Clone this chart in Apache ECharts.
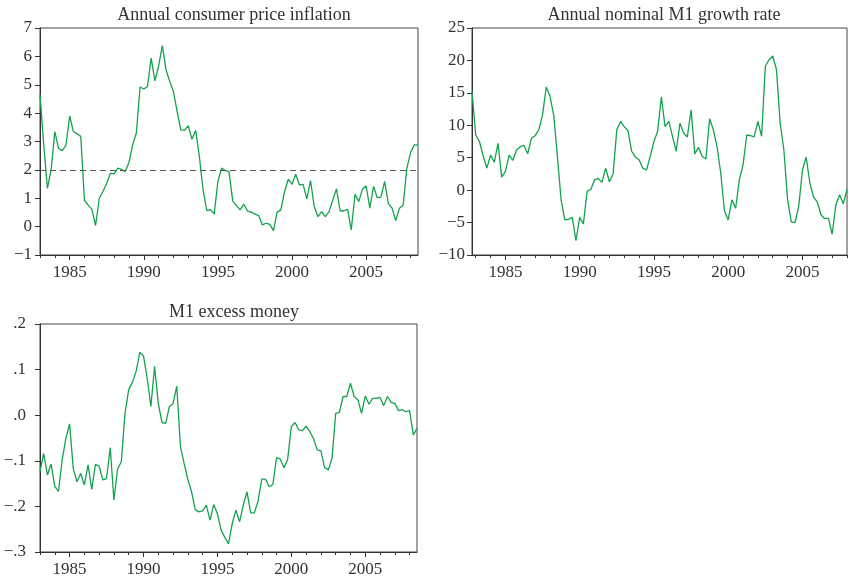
<!DOCTYPE html>
<html>
<head>
<meta charset="utf-8">
<script src="https://cdn.jsdelivr.net/npm/echarts@6/dist/echarts.min.js"></script>
<style>
	html, body { margin: 0; padding: 0; background: #fff; }
	#chart { width: 849px; height: 582px; }
</style>
</head>
<body>
<div id="chart"></div>
<script>
// quarterly series, first quarter of each series given as a decimal year
var cpiStart = 1983
var cpiInflation = [4.65, 2.9, 1.35, 2.0, 3.35, 2.76, 2.68, 2.86, 3.9, 3.35, 3.27, 3.18, 0.92, 0.76, 0.61, 0.04,
	1.0, 1.24, 1.53, 1.88, 1.86, 2.06, 2.02, 1.94, 2.26, 2.88, 3.3, 4.92, 4.85, 4.94, 5.94, 5.14,
	5.65, 6.38, 5.53, 5.12, 4.76, 4.06, 3.41, 3.39, 3.56, 3.08, 3.39, 2.47, 1.3, 0.56, 0.6, 0.44,
	1.59, 2.06, 1.98, 1.94, 0.91, 0.74, 0.59, 0.79, 0.55, 0.51, 0.44, 0.39, 0.06, 0.12, 0.08, -0.14,
	0.51, 0.59, 1.24, 1.67, 1.49, 1.85, 1.47, 1.49, 0.98, 1.62, 0.71, 0.35, 0.53, 0.35, 0.53, 0.94,
	1.33, 0.56, 0.56, 0.61, -0.12, 1.14, 0.88, 1.32, 1.44, 0.65, 1.42, 1.02, 1.04, 1.59, 0.82, 0.65,
	0.21, 0.65, 0.76, 2.06, 2.61, 2.88, 2.88]
var cpiTarget = 2

var m1Start = 1982.75
var m1Growth = [15.2, 8.5, 7.5, 5.3, 3.4, 5.4, 4.3, 7.2, 2.0, 2.9, 5.4, 4.6, 6.2, 6.7, 6.9, 5.6,
	8.0, 8.4, 9.3, 11.6, 15.9, 14.5, 11.6, 5.2, -1.5, -4.6, -4.5, -4.2, -7.8, -4.2, -5.2, -0.2,
	0.1, 1.6, 1.8, 1.2, 3.4, 1.3, 2.5, 9.3, 10.6, 9.8, 9.2, 6.0, 5.1, 4.7, 3.4, 3.1,
	5.2, 7.5, 9.1, 14.4, 9.8, 10.6, 8.3, 6.0, 10.3, 8.8, 8.2, 12.4, 5.6, 6.6, 5.2, 4.8,
	11.0, 9.3, 6.7, 2.6, -3.2, -4.6, -1.5, -2.8, 1.6, 3.9, 8.5, 8.4, 8.2, 10.6, 8.3, 19.1,
	20.1, 20.7, 18.6, 10.3, 6.2, -1.5, -4.9, -5.0, -2.5, 3.1, 5.1, 1.1, -1.1, -1.8, -3.8, -4.4,
	-4.3, -6.8, -2.3, -0.7, -2.1, 0.1]

var excessStart = 1983
var m1Excess = [-0.124, -0.084, -0.131, -0.107, -0.156, -0.167, -0.098, -0.051, -0.019, -0.117, -0.146, -0.128, -0.153, -0.109, -0.163, -0.108,
	-0.112, -0.142, -0.139, -0.071, -0.186, -0.118, -0.102, 0.004, 0.056, 0.072, 0.096, 0.138, 0.13, 0.081, 0.019, 0.107,
	0.026, -0.016, -0.018, 0.019, 0.025, 0.064, -0.069, -0.106, -0.141, -0.168, -0.207, -0.212, -0.21, -0.197, -0.23, -0.196,
	-0.216, -0.252, -0.268, -0.282, -0.238, -0.208, -0.234, -0.197, -0.168, -0.214, -0.214, -0.188, -0.14, -0.14, -0.157, -0.152,
	-0.093, -0.096, -0.115, -0.097, -0.025, -0.016, -0.032, -0.034, -0.024, -0.036, -0.051, -0.076, -0.078, -0.115, -0.12, -0.095,
	0.004, 0.006, 0.041, 0.041, 0.07, 0.041, 0.034, 0.004, 0.042, 0.024, 0.037, 0.037, 0.039, 0.021, 0.041, 0.028,
	0.026, 0.01, 0.012, 0.008, 0.01, -0.043, -0.029]

var titles = ['Annual consumer price inflation', 'Annual nominal M1 growth rate', 'M1 excess money']
var yearLabels = [1985, 1990, 1995, 2000, 2005]
var minorYears = []
for(var y = 1983; y <= 2008; y ++) minorYears.push(y)

var lineColor = '#13a24e'
var inkColor = '#333'
var font = "'Liberation Serif', 'DejaVu Serif', serif"

function toPoints(start, values) {
	var arr = []
	for(var i = 0; i < values.length; i ++) {
		arr.push([start + i / 4, values[i]])
	}
	return arr
}

function minusSign(v) {
	return String(v).replace('-', '\u2212')
}

function decimalLabel(v) {
	var r = Math.round(v * 10) / 10
	var s = r.toFixed(1).replace(/^(-?)0\./, '$1.')
	return minusSign(s)
}

// main x axis: yearly ticks, labels every 5 years
function mainX(grid, min, max) {
	return {
		type: 'value', gridIndex: grid, min: min, max: max, position: 'bottom',
		axisLine: { show: true, onZero: false, lineStyle: { color: inkColor, width: 1 } },
		axisTick: { show: true, length: 3, customValues: minorYears, lineStyle: { color: inkColor } },
		axisLabel: {
			show: true, customValues: yearLabels, color: inkColor, fontSize: 17, fontFamily: font, margin: 9,
			formatter: function(v) { return String(Math.round(v)) }
		},
		splitLine: { show: false }
	}
}

// overlay x axis only for the longer 5 year ticks
function majorX(grid, min, max) {
	return {
		type: 'value', gridIndex: grid, min: min, max: max, position: 'bottom',
		axisLine: { show: false, onZero: false },
		axisTick: { show: true, length: 5, customValues: yearLabels, lineStyle: { color: inkColor } },
		axisLabel: { show: false },
		splitLine: { show: false }
	}
}

function makeY(grid, min, max, interval, fmt, margin) {
	return {
		type: 'value', gridIndex: grid, min: min, max: max, interval: interval,
		axisLine: { show: true, lineStyle: { color: inkColor, width: 1 } },
		axisTick: { show: true, length: 5, lineStyle: { color: inkColor } },
		axisLabel: { color: inkColor, fontSize: 17, fontFamily: font, margin: margin, formatter: fmt },
		splitLine: { show: false }
	}
}

function lineSeries(x, y, data) {
	return {
		type: 'line', xAxisIndex: x, yAxisIndex: y, data: data,
		showSymbol: false, symbol: 'none', animation: false,
		lineStyle: { color: lineColor, width: 1.3 }
	}
}

var chart = echarts.init(document.getElementById('chart'))

var frame = { show: true, borderColor: '#444', borderWidth: 1, backgroundColor: 'transparent' }
var titleStyle = { fontFamily: font, fontSize: 18, fontWeight: 'normal', color: inkColor }

var cpiLine = lineSeries(0, 0, toPoints(cpiStart, cpiInflation))
cpiLine.markLine = {
	silent: true, symbol: 'none', animation: false,
	label: { show: false },
	lineStyle: { color: '#555', type: [6, 4], width: 1 },
	data: [{ yAxis: cpiTarget }]
}

var option = {
	animation: false,
	title: [
		{ text: titles[0], left: 229, top: 1, textAlign: 'center', textStyle: titleStyle },
		{ text: titles[1], left: 659, top: 1, textAlign: 'center', textStyle: titleStyle },
		{ text: titles[2], left: 229, top: 298, textAlign: 'center', textStyle: titleStyle }
	],
	grid: [
		Object.assign({ left: 40, top: 28, width: 378, height: 227 }, frame),
		Object.assign({ left: 472, top: 28, width: 375, height: 227 }, frame),
		Object.assign({ left: 40, top: 324, width: 377, height: 228 }, frame)
	],
	xAxis: [
		mainX(0, 1983, 2008.5), majorX(0, 1983, 2008.5),
		mainX(1, 1982.75, 2008), majorX(1, 1982.75, 2008),
		mainX(2, 1983, 2008.5), majorX(2, 1983, 2008.5)
	],
	yAxis: [
		makeY(0, -1, 7, 1, minusSign, 8),
		makeY(1, -10, 25, 5, minusSign, 7),
		makeY(2, -0.3, 0.2, 0.1, decimalLabel, 14)
	],
	series: [
		cpiLine,
		lineSeries(2, 1, toPoints(m1Start, m1Growth)),
		lineSeries(4, 2, toPoints(excessStart, m1Excess))
	]
}

chart.setOption(option)
</script>
</body>
</html>
